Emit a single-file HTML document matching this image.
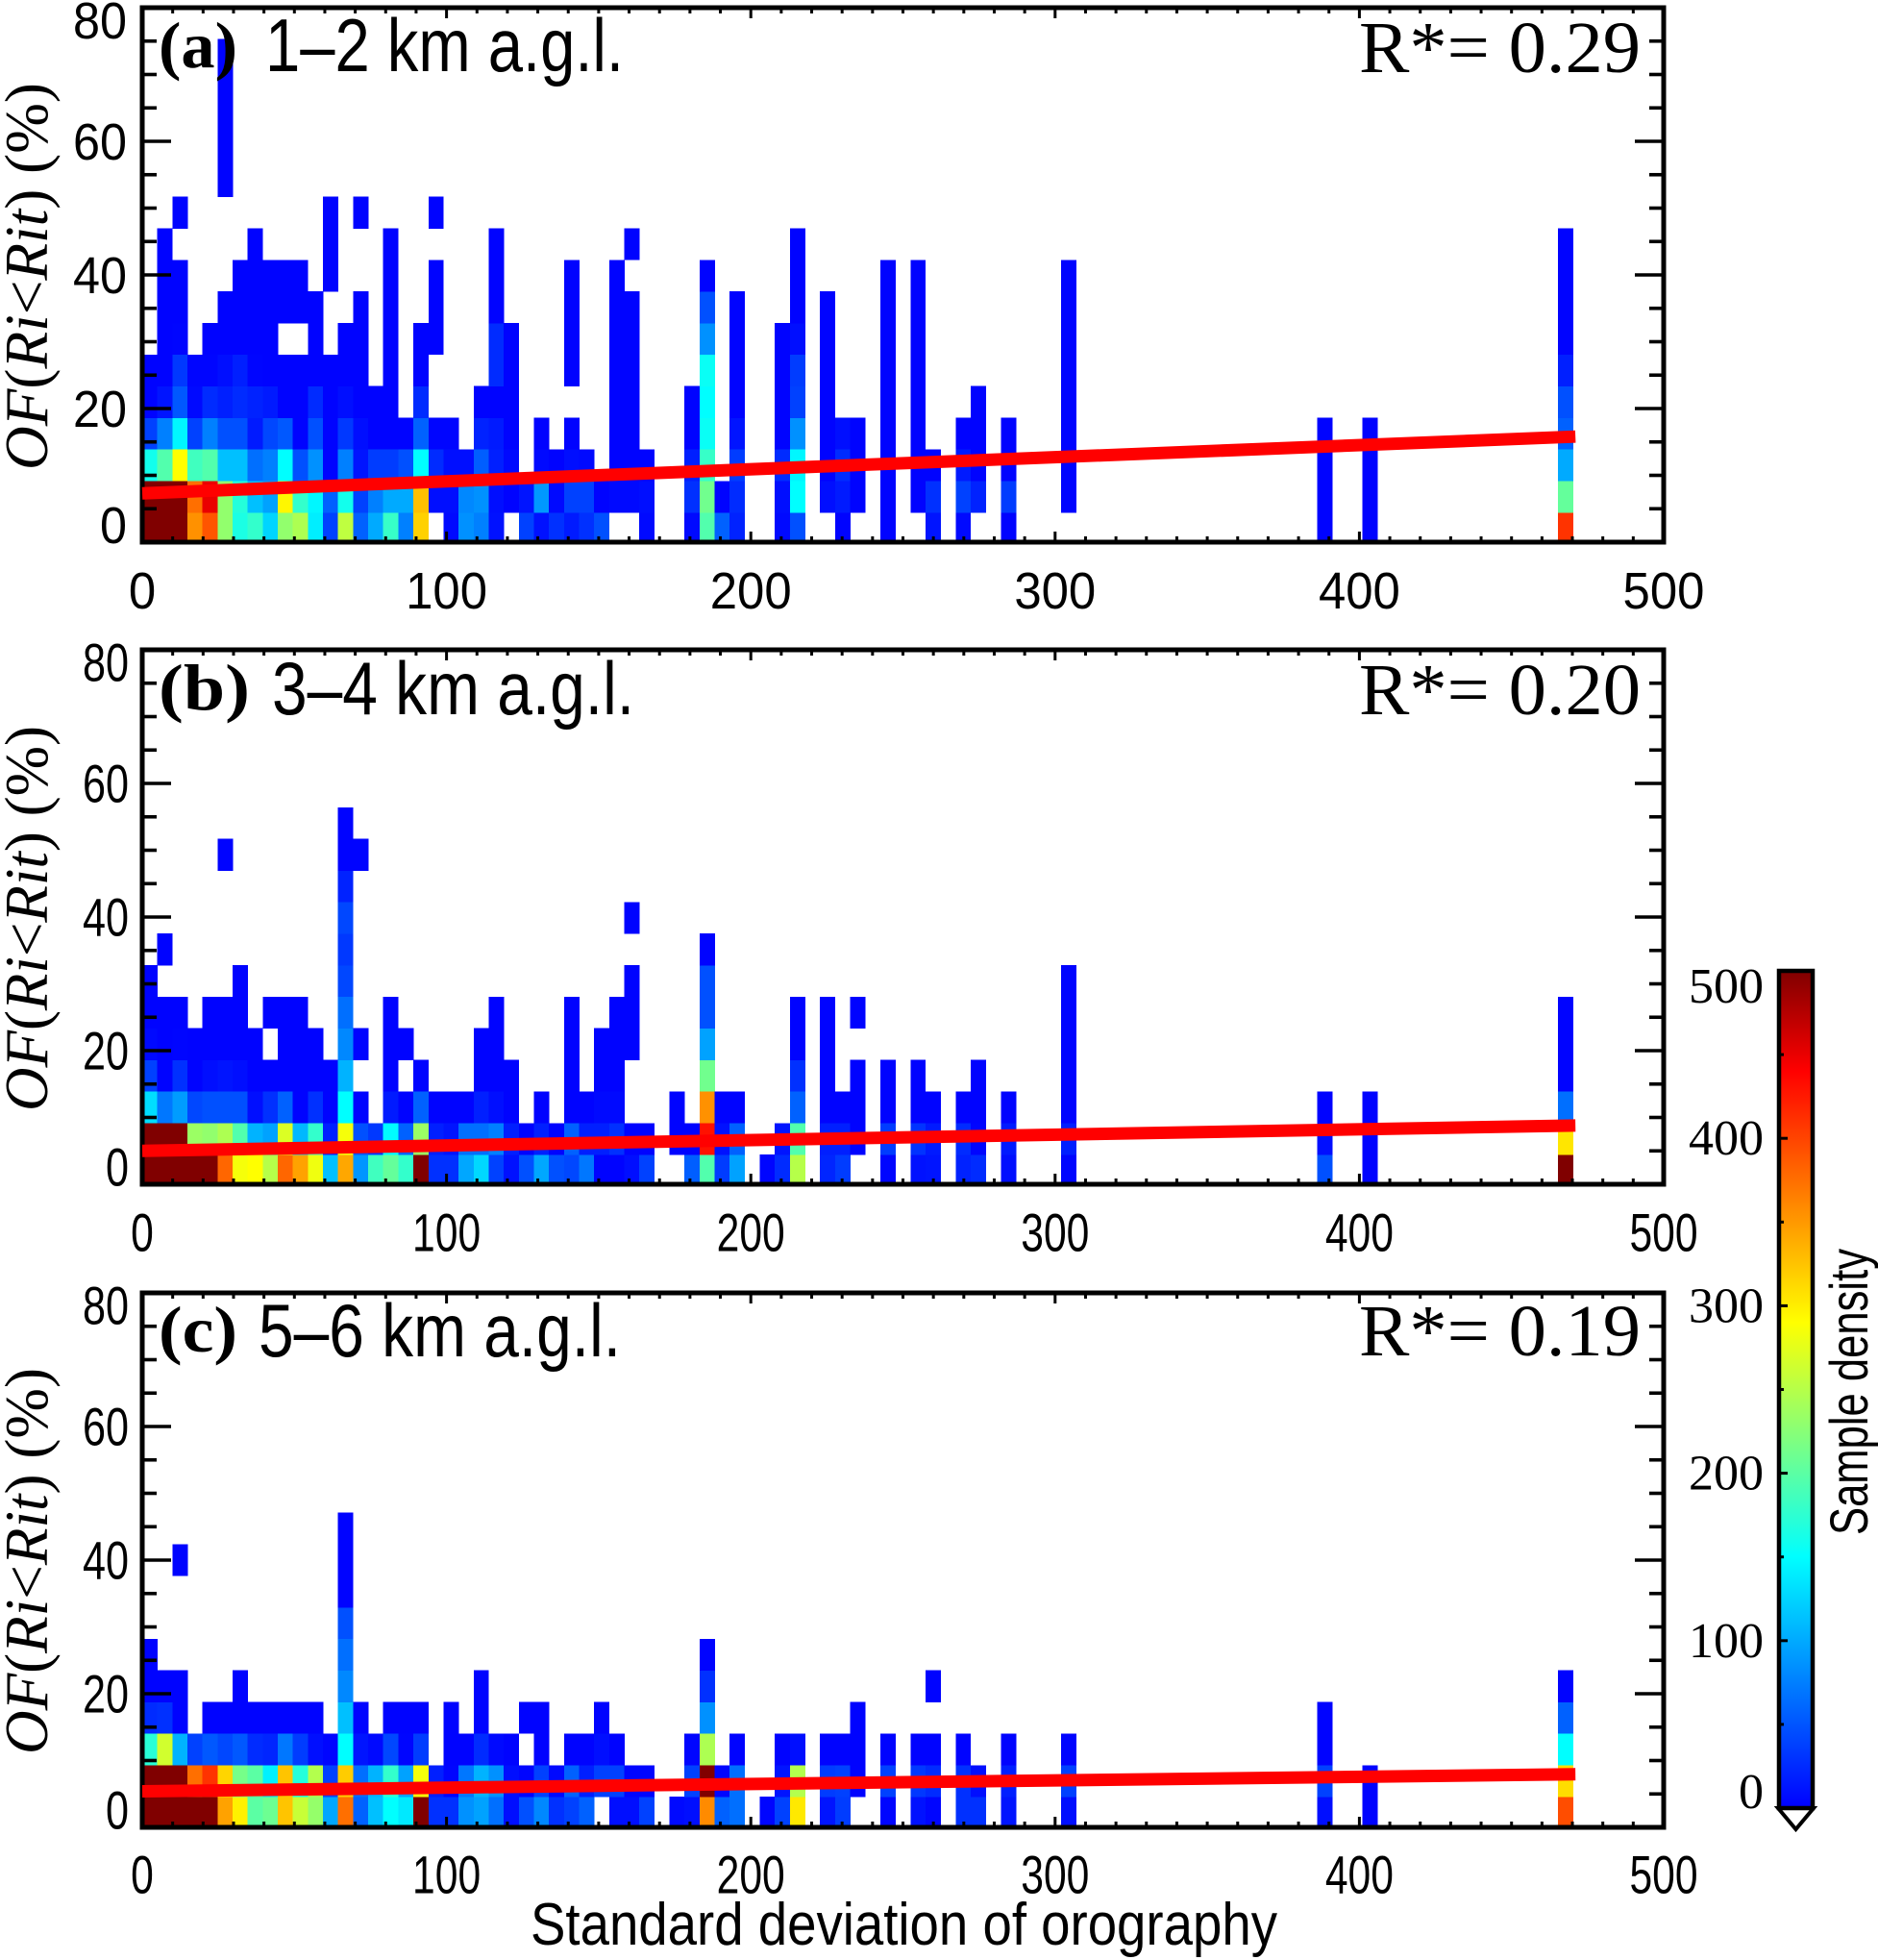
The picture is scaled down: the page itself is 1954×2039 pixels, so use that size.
<!DOCTYPE html>
<html lang="en">
<head>
<meta charset="utf-8">
<title>OF(Ri&lt;Rit) vs standard deviation of orography</title>
<style>
  html, body { margin: 0; padding: 0; background: #fff; }
  svg { display: block; }
  .sans { font-family: "Liberation Sans", sans-serif; fill: #000; }
  .serif { font-family: "Liberation Serif", serif; fill: #000; }
</style>
</head>
<body>
<svg id="figure" xmlns="http://www.w3.org/2000/svg" width="1954" height="2039" viewBox="0 0 1954 2039">
  <rect x="0" y="0" width="1954" height="2039" fill="#fff"/>
  <g id="plots"></g>

  <g id="annotations">
    <text class="serif" x="165" y="70" font-size="68" font-weight="bold" textLength="82" lengthAdjust="spacingAndGlyphs">(a)</text>
    <text class="sans" x="276" y="74" font-size="78" textLength="373" lengthAdjust="spacingAndGlyphs">1–2 km a.g.l.</text>
    <text class="serif" x="1414" y="75" font-size="76" textLength="293" lengthAdjust="spacingAndGlyphs">R*= 0.29</text>

    <text class="serif" x="165" y="738" font-size="68" font-weight="bold" textLength="95" lengthAdjust="spacingAndGlyphs">(b)</text>
    <text class="sans" x="283" y="743" font-size="78" textLength="377" lengthAdjust="spacingAndGlyphs">3–4 km a.g.l.</text>
    <text class="serif" x="1414" y="743" font-size="76" textLength="293" lengthAdjust="spacingAndGlyphs">R*= 0.20</text>

    <text class="serif" x="165" y="1406" font-size="68" font-weight="bold" textLength="82" lengthAdjust="spacingAndGlyphs">(c)</text>
    <text class="sans" x="269" y="1411" font-size="78" textLength="377" lengthAdjust="spacingAndGlyphs">5–6 km a.g.l.</text>
    <text class="serif" x="1414" y="1410" font-size="76" textLength="293" lengthAdjust="spacingAndGlyphs">R*= 0.19</text>

    <text class="serif" transform="translate(49,489) rotate(-90)" font-size="64" textLength="403" lengthAdjust="spacingAndGlyphs"><tspan font-style="italic">OF</tspan>(<tspan font-style="italic">Ri</tspan>&lt;<tspan font-style="italic">Rit</tspan>) (%)</text>
    <text class="serif" transform="translate(49,1156) rotate(-90)" font-size="64" textLength="401" lengthAdjust="spacingAndGlyphs"><tspan font-style="italic">OF</tspan>(<tspan font-style="italic">Ri</tspan>&lt;<tspan font-style="italic">Rit</tspan>) (%)</text>
    <text class="serif" transform="translate(49,1825) rotate(-90)" font-size="64" textLength="402" lengthAdjust="spacingAndGlyphs"><tspan font-style="italic">OF</tspan>(<tspan font-style="italic">Ri</tspan>&lt;<tspan font-style="italic">Rit</tspan>) (%)</text>

    <text class="sans" x="552" y="2023" font-size="62" textLength="777" lengthAdjust="spacingAndGlyphs">Standard deviation of orography</text>
    <text class="sans" transform="translate(1943,1597) rotate(-90)" font-size="56" textLength="298" lengthAdjust="spacingAndGlyphs">Sample density</text>
  </g>
</svg>

<script>
// ---- chart data (sample density per bin, 0 = empty bin) ----
// x bin index of each column; bins are binWidthX wide, rows are binHeightY tall
const binColumns = [
  0,1,2,3,4,5,6,7,8,9,
  10,11,12,13,14,15,16,17,18,19,
  20,21,22,23,24,25,26,27,28,29,
  30,31,32,33,34,35,36,37,38,39,
  40,41,42,43,44,45,46,47,48,49,
  50,51,52,53,54,55,56,57,58,59,
  60,61,78,81,94];
const binWidthX = 4.95;
const binHeightY = 4.727;

// each row runs bottom-up; each entry lines up with binColumns
const densityA = [
 [500,500,500,355,390,230,165,178,125,230, 245,140,38,255,57,100,180,75,317,0, 5,85,75,10,0,38,10,28,15,28, 47,0,0,5,0,0,5,195,57,20, 0,0,5,47,0,0,2,0,0,2, 0,0,12,0,5,0,0,2,0,0, 0,0, 2,2,410],
 [500,500,500,375,450,230,170,113,95,295, 178,145,57,160,38,75,100,100,327,8, 8,80,85,8,2,12,90,5,38,38, 2,5,5,8,0,0,28,212,2,25, 0,0,8,150,0,8,15,2,0,2, 0,2,28,0,38,20,0,35,0,0, 0,2, 2,2,205],
 [160,195,290,185,195,113,113,65,75,150, 47,85,2,75,12,35,35,47,150,25, 8,8,55,18,5,0,5,2,8,5, 0,2,2,2,0,0,18,180,0,35, 0,0,25,145,0,2,25,2,0,2, 0,2,2,0,15,2,0,2,0,0, 0,2, 2,2,100],
 [38,75,145,38,75,47,47,15,42,52, 2,47,2,33,8,2,2,2,57,3, 3,0,20,15,2,0,2,0,2,0, 0,2,2,0,0,0,2,155,0,12, 0,0,2,85,0,2,8,2,0,2, 0,2,0,0,2,2,0,2,0,0, 0,2, 2,2,57],
 [2,12,52,5,25,18,25,20,15,2, 2,25,2,8,2,2,2,0,25,0, 0,0,2,2,2,0,0,0,0,0, 0,2,2,0,0,0,2,150,0,2, 0,0,2,38,0,2,0,0,0,2, 0,2,0,0,0,2,0,0,0,0, 0,2, 0,0,47],
 [2,2,33,3,3,8,18,3,2,2, 2,2,2,2,2,0,2,0,2,0, 0,0,0,25,2,0,0,0,2,0, 0,2,2,0,0,0,0,155,0,2, 0,0,2,35,0,2,0,0,0,2, 0,2,0,0,0,0,0,0,0,0, 0,2, 0,0,18],
 [0,2,3,0,2,2,2,2,2,0, 0,2,0,2,2,0,2,0,2,2, 0,0,0,25,2,0,0,0,2,0, 0,2,2,0,0,0,0,85,0,2, 0,0,2,8,0,2,0,0,0,2, 0,2,0,0,0,0,0,0,0,0, 0,2, 0,0,2],
 [0,2,2,0,0,2,2,2,2,2, 2,2,0,0,2,0,2,0,0,2, 0,0,0,2,0,0,0,0,2,0, 0,2,2,0,0,0,0,47,0,2, 0,0,0,2,0,2,0,0,0,2, 0,2,0,0,0,0,0,0,0,0, 0,2, 0,0,2],
 [0,2,2,0,0,0,2,2,2,2, 2,0,2,0,0,0,2,0,0,2, 0,0,0,2,0,0,0,0,2,0, 0,2,0,0,0,0,0,2,0,0, 0,0,0,2,0,0,0,0,0,2, 0,2,0,0,0,0,0,0,0,0, 0,2, 0,0,2],
 [0,2,0,0,0,0,0,2,0,0, 0,0,2,0,0,0,2,0,0,0, 0,0,0,2,0,0,0,0,0,0, 0,0,2,0,0,0,0,0,0,0, 0,0,0,2,0,0,0,0,0,0, 0,0,0,0,0,0,0,0,0,0, 0,0, 0,0,2],
 [0,0,2,0,0,0,0,0,0,0, 0,0,2,0,2,0,0,0,0,2],
 [0,0,0,0,0,2],
 [0,0,0,0,0,2],
 [0,0,0,0,0,2],
 [0,0,0,0,0,2],
 [0,0,0,0,0,2]
];

const densityB = [
 [500,500,500,500,500,380,285,290,250,380, 345,282,113,342,88,185,205,178,500,28, 28,98,127,38,10,47,98,47,42,70, 2,2,8,38,0,0,55,195,35,95, 0,3,25,250,0,22,35,0,0,3, 0,10,12,0,20,25,0,8,0,0, 0,3, 47,2,500],
 [500,500,500,235,230,245,195,105,95,270, 108,178,18,285,47,33,148,57,235,18, 12,65,65,75,18,2,18,2,57,18, 18,28,2,2,0,2,2,430,10,57, 0,0,12,195,0,18,18,2,0,35, 0,30,15,0,25,3,0,15,0,0, 0,18, 8,2,305],
 [130,70,92,42,47,47,47,8,28,57, 2,28,2,150,2,0,15,2,57,2, 2,2,18,8,2,0,2,0,2,2, 5,5,0,0,0,2,0,355,2,2, 0,0,0,57,0,2,2,2,0,2, 0,2,2,0,2,2,0,2,0,0, 0,2, 2,2,65],
 [38,2,28,2,8,12,8,2,2,2, 2,2,2,105,0,0,2,0,2,0, 0,0,2,2,2,0,0,0,2,0, 2,2,0,0,0,0,0,212,0,0, 0,0,0,28,0,2,0,2,0,2, 0,2,0,0,0,2,0,0,0,0, 0,2, 0,0,2],
 [5,2,3,2,2,2,2,2,0,2, 2,2,0,80,2,0,2,2,0,0, 0,0,2,2,0,0,0,0,2,0, 2,2,2,0,0,0,0,95,0,0, 0,0,0,2,0,2,0,0,0,0, 0,0,0,0,0,0,0,0,0,0, 0,2, 0,0,2],
 [2,2,2,0,2,2,2,0,2,2, 2,0,0,65,0,0,2,0,0,0, 0,0,0,2,0,0,0,0,2,0, 0,2,2,0,0,0,0,47,0,0, 0,0,0,2,0,2,0,2,0,0, 0,0,0,0,0,0,0,0,0,0, 0,2, 0,0,2],
 [2,0,0,0,0,0,2,0,0,0, 0,0,0,42,0,0,0,0,0,0, 0,0,0,0,0,0,0,0,0,0, 0,0,2,0,0,0,0,47,0,0, 0,0,0,0,0,0,0,0,0,0, 0,0,0,0,0,0,0,0,0,0, 0,2],
 [0,2,0,0,0,0,0,0,0,0, 0,0,0,33,0,0,0,0,0,0, 0,0,0,0,0,0,0,0,0,0, 0,0,0,0,0,0,0,2],
 [0,0,0,0,0,0,0,0,0,0, 0,0,0,42,0,0,0,0,0,0, 0,0,0,0,0,0,0,0,0,0, 0,0,2],
 [0,0,0,0,0,0,0,0,0,0, 0,0,0,20],
 [0,0,0,0,0,2,0,0,0,0, 0,0,0,2,2],
 [0,0,0,0,0,0,0,0,0,0, 0,0,0,2]
];

const densityC = [
 [500,500,500,500,500,345,298,200,210,325, 260,232,98,375,57,113,150,137,500,28, 28,85,95,65,8,47,80,28,38,57, 0,8,8,38,0,5,8,358,57,65, 0,3,38,303,0,12,35,0,0,3, 0,10,3,0,28,28,0,12,0,0, 0,8, 8,2,395],
 [500,500,500,375,410,315,215,200,142,325, 170,248,38,320,65,105,178,95,285,18, 3,70,105,85,8,3,38,5,57,18, 38,38,3,3,0,0,38,500,3,65, 0,0,12,248,0,35,38,2,0,38, 0,33,25,0,28,8,0,18,0,0, 0,38, 38,2,310],
 [172,265,105,38,52,42,52,25,22,70, 35,8,3,150,12,5,42,3,35,0, 2,2,25,5,2,0,2,0,2,2, 8,2,0,0,0,0,3,245,0,2, 0,0,2,8,0,2,2,2,0,2, 0,2,2,0,2,0,0,2,0,0, 0,2, 2,0,150],
 [25,28,2,0,2,2,2,2,2,2, 2,2,0,113,2,0,2,2,2,0, 2,0,2,0,0,2,2,0,0,0, 2,0,0,0,0,0,0,85,0,0, 0,0,0,0,0,0,0,2,0,0, 0,0,0,0,0,0,0,0,0,0, 0,0, 2,0,57],
 [2,2,2,0,0,0,2,0,0,0, 0,0,0,80,0,0,0,0,0,0, 0,0,2,0,0,0,0,0,0,0, 0,0,0,0,0,0,0,28,0,0, 0,0,0,0,0,0,0,0,0,0, 0,0,2,0,0,0,0,0,0,0, 0,0, 0,0,2],
 [2,0,0,0,0,0,0,0,0,0, 0,0,0,65,0,0,0,0,0,0, 0,0,0,0,0,0,0,0,0,0, 0,0,0,0,0,0,0,2],
 [0,0,0,0,0,0,0,0,0,0, 0,0,0,47],
 [0,0,0,0,0,0,0,0,0,0, 0,0,0,2],
 [0,0,2,0,0,0,0,0,0,0, 0,0,0,2],
 [0,0,0,0,0,0,0,0,0,0, 0,0,0,2]
];

// red regression lines: OF at the two ends of the fit
const fitX = [0, 471];
const fitA = [7.3, 15.8];
const fitB = [5.0, 8.8];
const fitC = [5.4, 7.95];

// tick labels
const xTickLabels = [0, 100, 200, 300, 400, 500];
const yTickLabels = [0, 20, 40, 60, 80];
const colorbarTickLabels = [0, 100, 200, 300, 400, 500];

// jet-like colour scale (density -> colour)
const scaleValues = [0, 150, 290, 440, 500];
const scaleColors = [[0,0,255],[0,255,255],[255,255,0],[255,0,0],[128,0,0]];

// ---- layout ----
const NS = 'http://www.w3.org/2000/svg';
const root = document.getElementById('plots');
const PLOT_LEFT = 148, PLOT_RIGHT = 1731;
const xMax = 500, yMax = 80;
const panelLayout = [
  { key:'a', grid:densityA, fit:fitA, top:8,    bottom:564,  gridShift:2, yFont:54, yPerDigit:28, yRight:132, xFont:54, xPerDigit:28.3, xLabelY:614 },
  { key:'b', grid:densityB, fit:fitB, top:676,  bottom:1232, gridShift:2, yFont:56, yPerDigit:24, yRight:134, xFont:56, xPerDigit:23.7, xLabelY:1282 },
  { key:'c', grid:densityC, fit:fitC, top:1345, bottom:1901, gridShift:1, yFont:56, yPerDigit:24, yRight:134, xFont:56, xPerDigit:23.7, xLabelY:1950 }
];

function mk(tag, attrs, parent) {
  const el = document.createElementNS(NS, tag);
  for (const k in attrs) el.setAttribute(k, attrs[k]);
  (parent || root).appendChild(el);
  return el;
}
function xScale(v) { return PLOT_LEFT + v * (PLOT_RIGHT - PLOT_LEFT) / xMax; }
function colorOf(v) {
  let i = 0;
  while (i < scaleValues.length - 2 && v > scaleValues[i + 1]) i++;
  const t = Math.max(0, Math.min(1, (v - scaleValues[i]) / (scaleValues[i + 1] - scaleValues[i])));
  const a = scaleColors[i], b = scaleColors[i + 1];
  return 'rgb(' + [0,1,2].map(function (k) { return Math.round(a[k] + (b[k] - a[k]) * t); }).join(',') + ')';
}

panelLayout.forEach(function (p) {
  const g = mk('g', {});
  
  
  const yScale = function (v) { return p.bottom - v * (p.bottom - p.top) / yMax; };

  // heatmap cells
  const cells = mk('g', { 'shape-rendering': 'crispEdges' }, g);
  
  
  p.grid.forEach(function (row, r) {
    row.forEach(function (value, c) {
      if (!value) return;
      const x0 = xScale(binColumns[c] * binWidthX);
      const x1 = xScale((binColumns[c] + 1) * binWidthX);
      const yLow = Math.min(yScale(r * binHeightY) + p.gridShift, p.bottom);
      const yHigh = yScale((r + 1) * binHeightY) + p.gridShift;
      const cell = mk('rect', { x: x0, y: yHigh, width: x1 - x0 + 0.3, height: yLow - yHigh + 0.3, fill: colorOf(value) }, cells);
      
      
    });
  });

  // y ticks (both sides)
  const yTicks = mk('g', { stroke: '#000', 'stroke-width': 3.6 }, g);
  
  
  for (let v = 0; v <= yMax; v += 5) {
    const len = v % 20 === 0 ? 30 : 15;
    const left = mk('line', { x1: PLOT_LEFT, x2: PLOT_LEFT + len, y1: yScale(v), y2: yScale(v) }, yTicks);
    
    
    const right = mk('line', { x1: PLOT_RIGHT, x2: PLOT_RIGHT - len, y1: yScale(v), y2: yScale(v) }, yTicks);
    
    
  }

  // x ticks (top and bottom)
  const xTicks = mk('g', { stroke: '#000', 'stroke-width': 3 }, g);
  
  
  for (let v = 0; v <= xMax; v += 10) {
    const len = v % 100 === 0 ? 11 : 6;
    const bottom = mk('line', { x1: xScale(v), x2: xScale(v), y1: p.bottom, y2: p.bottom - len }, xTicks);
    
    
    const top = mk('line', { x1: xScale(v), x2: xScale(v), y1: p.top, y2: p.top + len }, xTicks);
    
    
  }

  // frame
  const frame = mk('rect', { x: PLOT_LEFT, y: p.top, width: PLOT_RIGHT - PLOT_LEFT, height: p.bottom - p.top, fill: 'none', stroke: '#000', 'stroke-width': 5 }, g);
  
  

  // fit line
  const fit = mk('line', { x1: xScale(fitX[0]), y1: yScale(p.fit[0]), x2: xScale(fitX[1]), y2: yScale(p.fit[1]), stroke: '#ff0000', 'stroke-width': 13 }, g);
  
  

  // y tick labels
  yTickLabels.forEach(function (v) {
    const nudge = v === 0 ? -18 : (v === yMax ? 13 : 0);
    const s = String(v);
    const t = mk('text', { class: 'sans', x: p.yRight, y: yScale(v) + nudge + p.yFont * 0.35, 'font-size': p.yFont, 'text-anchor': 'end', textLength: s.length * p.yPerDigit, lengthAdjust: 'spacingAndGlyphs' }, g);
    t.textContent = s;
    
    
  });

  // x tick labels
  xTickLabels.forEach(function (v) {
    const s = String(v);
    const t = mk('text', { class: 'sans', x: xScale(v), y: p.xLabelY + p.xFont * 0.35, 'font-size': p.xFont, 'text-anchor': 'middle', textLength: s.length * p.xPerDigit, lengthAdjust: 'spacingAndGlyphs' }, g);
    t.textContent = s;
    
    
  });
});

// ---- colorbar ----
(function () {
  const CB_LEFT = 1853, CB_RIGHT = 1884, CB_TOP = 1010, CB_BOTTOM = 1881, CB_MAX = 500;
  const cbY = function (v) { return CB_BOTTOM - v * (CB_BOTTOM - CB_TOP) / CB_MAX; };
  const g = mk('g', {});
  
  

  const defs = mk('defs', {}, g);
  const grad = mk('linearGradient', { id: 'jet', x1: 0, y1: 1, x2: 0, y2: 0 }, defs);
  scaleValues.forEach(function (v, i) {
    mk('stop', { offset: v / CB_MAX, 'stop-color': 'rgb(' + scaleColors[i].join(',') + ')' }, grad);
  });

  const arrow = mk('path', { d: 'M' + (CB_LEFT - 3) + ' ' + CB_BOTTOM + ' L' + ((CB_LEFT + CB_RIGHT) / 2) + ' ' + (CB_BOTTOM + 22) + ' L' + (CB_RIGHT + 3) + ' ' + CB_BOTTOM + ' Z', fill: '#fff', stroke: '#000', 'stroke-width': 4 }, g);
  
  

  const bar = mk('rect', { x: CB_LEFT - 2, y: CB_TOP, width: CB_RIGHT - CB_LEFT + 4, height: CB_BOTTOM - CB_TOP, fill: 'url(#jet)', stroke: '#000', 'stroke-width': 4.5 }, g);
  
  

  for (let v = 50; v < CB_MAX; v += 50) {
    const tick = mk('line', { x1: CB_LEFT - 1, x2: CB_LEFT + (v % 100 === 0 ? 7 : 3), y1: cbY(v), y2: cbY(v), stroke: '#000', 'stroke-width': 3 }, g);
    
    
  }

  colorbarTickLabels.forEach(function (v) {
    const nudge = v === 0 ? -17 : (v === CB_MAX ? 16 : 0);
    const s = String(v);
    const t = mk('text', { class: 'serif', x: 1835, y: cbY(v) + nudge + 17, 'font-size': 52, 'text-anchor': 'end', textLength: s.length * 26, lengthAdjust: 'spacingAndGlyphs' }, g);
    t.textContent = s;
    
    
  });
})();
</script>
</body>
</html>
